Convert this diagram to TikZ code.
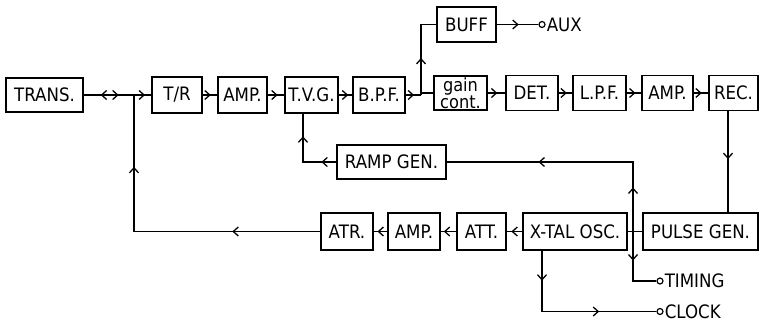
\documentclass[tikz,border=0pt]{standalone}
\usepackage{fontspec}
\setmainfont{DejaVu Sans}[FakeStretch=0.9]
\usetikzlibrary{arrows.meta,decorations.markings}
\tikzset{
  blk/.style={draw, line width=1.3pt, inner sep=0pt, minimum height=35pt, font=\fontsize{18.5}{20}\selectfont},
  term/.style={draw, circle, line width=1.2pt, inner sep=0pt, minimum size=6pt, fill=white},
  lbl/.style={inner sep=0.5pt, anchor=west, font=\fontsize{18.5}{20}\selectfont},
  fw/.style={postaction={decorate,decoration={markings,mark=at position #1 with {\arrow{>}}}}},
  bw/.style={postaction={decorate,decoration={markings,mark=at position #1 with {\arrowreversed{>}}}}},
}
\begin{document}
\begin{tikzpicture}[x=1pt,y=-1pt, >={Straight Barb[length=5pt,width=9pt]}, line width=1.3pt]
\useasboundingbox (0,0) rectangle (759,323);
% main row
\node[blk, minimum width=77pt, minimum height=34pt] (trans) at (44.5,95) {TRANS.};
\node[blk, minimum width=50pt, minimum height=36pt] (tr) at (177,95) {T/R};
\node[blk, minimum width=49pt, minimum height=36pt] (ampa) at (242.5,95) {AMP.};
\node[blk, minimum width=53pt, minimum height=36pt] (tvg) at (311.5,95) {T.V.G.};
\node[blk, minimum width=52pt, minimum height=36pt] (bpf) at (379,95) {B.P.F.};
\node[blk, minimum width=53pt, minimum height=34pt, align=center, font=\fontsize{18}{14}\selectfont] (gain) at (460.5,93) {gain\\cont.};
\node[blk, minimum width=52pt] (det) at (532,93) {DET.};
\node[blk, minimum width=53pt] (lpf) at (599.5,93) {L.P.F.};
\node[blk, minimum width=51pt] (ampb) at (667.5,93) {AMP.};
\node[blk, minimum width=49pt] (rec) at (733.5,93) {REC.};
% upper branch
\node[blk, minimum width=59pt] (buff) at (466.5,24.5) {BUFF};
\node[term] (aux) at (542,24.5) {};
\node[lbl] (auxt) at (aux.east) {AUX};
% ramp
\node[blk, minimum width=109pt, minimum height=34pt] (ramp) at (391.5,162) {RAMP GEN.};
% lower row
\node[blk, minimum width=52pt, minimum height=37pt] (atr) at (347,231.5) {ATR.};
\node[blk, minimum width=52pt, minimum height=37pt] (ampc) at (414,231.5) {AMP.};
\node[blk, minimum width=49pt, minimum height=37pt] (att) at (481.5,231.5) {ATT.};
\node[blk, minimum width=104pt, minimum height=37pt] (xtal) at (575,231.5) {X-TAL OSC.};
\node[blk, minimum width=115pt, minimum height=37pt] (pulse) at (700.5,231.5) {PULSE GEN.};
\node[term] (timing) at (660,281) {};
\node[lbl] (timingt) at (timing.east) {TIMING};
\node[term] (clock) at (660,311.5) {};
\node[lbl] (clockt) at (clock.east) {CLOCK};
% coordinates
\coordinate (j1) at (134,95);
\coordinate (jatr) at (134,231.5);
\coordinate (jb) at (421,95);
\coordinate (bt) at (421,24.5);
\coordinate (jp) at (633,231.5);
\coordinate (rg) at (633,162);
\coordinate (tm) at (633,281);
\coordinate (tv) at (303,162);
\coordinate (ck) at (542,311.5);
\coordinate (rp) at (728,150);
% connectors main row
\draw[bw=17pt, fw=35pt] (trans.east) -- (j1);
\draw[fw=11pt] (j1) -- (tr.west);
\draw[fw=0.55] (tr.east) -- (ampa.west);
\draw[fw=0.6] (ampa.east) -- (tvg.west);
\draw[fw=0.7] (tvg.east) -- (bpf.west);
\draw[fw=0.55] (bpf.east) -- (jb |- bpf.east);
\draw (jb |- gain.west) -- (gain.west);
\draw (jb |- bpf.east) -- (jb |- gain.west);
\draw[fw=0.55] (gain.east) -- (det.west);
\draw[fw=0.6] (det.east) -- (lpf.west);
\draw[fw=0.6] (lpf.east) -- (ampb.west);
\draw[fw=0.55] (ampb.east) -- (rec.west);
% buff branch
\draw[fw=37pt] (jb) -- (bt) -- (buff.west);
\draw[fw=22pt] (buff.east) -- (aux);
% rec to pulse
\draw[fw=48pt] (rec.south -| rp) -- (pulse.north -| rp);
% pulse / xtal junction
\draw (pulse.west) -- (xtal.east);
\draw[fw=44pt, fw=164pt] (jp) -- (rg) -- (ramp.east);
\draw[fw=29pt] (jp) -- (tm) -- (timing);
% ramp to tvg
\draw[fw=15pt, fw=59pt] (ramp.west) -- (tv) -- (tvg.south -| tv);
% lower chain
\draw[fw=0.7] (xtal.west) -- (att.east);
\draw[fw=0.8] (att.west) -- (ampc.east);
\draw[fw=0.72] (ampc.west) -- (atr.east);
\draw[fw=88pt, fw=251pt] (atr.west) -- (jatr) -- (j1);
% clock
\draw[fw=30pt, fw=118pt] (xtal.south -| ck) -- (ck) -- (clock);
\end{tikzpicture}
\end{document}
